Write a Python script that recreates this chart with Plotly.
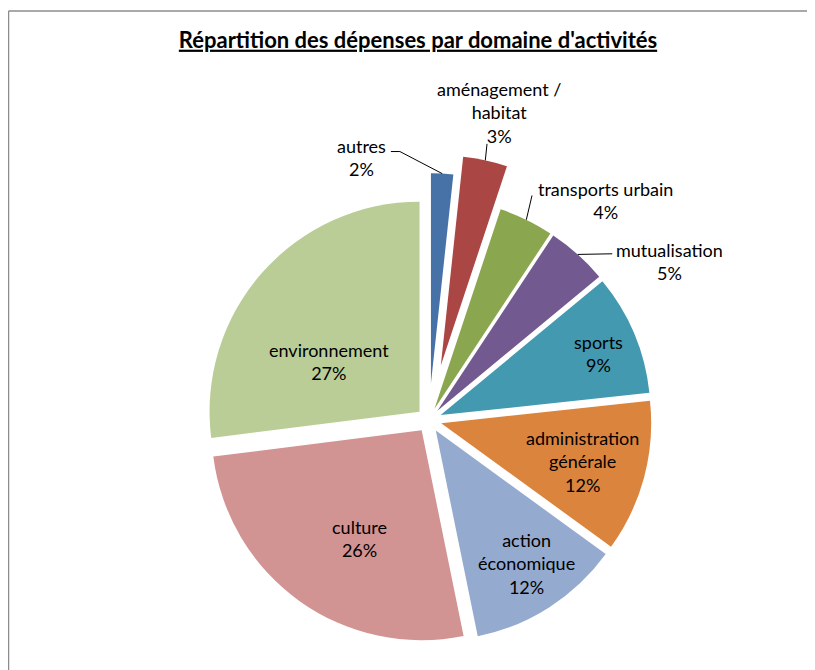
import math
import plotly.graph_objects as go

PAGE_OFF = 8  # the html body margin shifts the figure by 8px
W, H = 807, 662  # figure reaches the window edges

# ---- data (clockwise from 12 o'clock) ----
categories = ["autres", "aménagement /\nhabitat", "transports urbain", "mutualisation",
              "sports", "administration\ngénérale", "action\néconomique", "culture",
              "environnement"]
values = [1.7, 3.4, 4.2, 4.7, 9.3, 11.7, 11.8, 26.2, 27.0]
colors = ["#4672A8", "#AA4643", "#8AA64F", "#72598F", "#4299B0",
          "#DB843D", "#94AACF", "#D29393", "#BACD97"]
pulls = [0.175, 0.265, 0.06, 0.06, 0.06, 0.06, 0.06, 0.06, 0.06]

# label placement style: (radius factor from centre, angle shift from slice mid in degrees)
label_place = [(1.29, -17.4), (1.50, 0.6), (1.34, 12.8), (1.37, 14.7), (0.865, 1.4),
               (0.76, 0.3), (0.826, -1.6), (0.653, -5.4), (0.552, -11.1)]
# leader lines: offsets (px) from label centre for elbow/end points, None = no line
leader = [[(38, -6), (29, -6)], [(-12, 31)], [(-73, -5)], [(-57, -8)],
          None, None, None, None, None]

# pie centre and radius in screen pixels
CX, CY, R = 429.0, 420.0, 210.0
BASE_PULL = 0.06


def dirv(theta):
    t = math.radians(theta)
    return math.sin(t), -math.cos(t)


def X(px):
    return (px - PAGE_OFF) / W


def Y(py):
    return 1 - (py - PAGE_OFF) / H


def domain_for(cx, cy, hf):
    return dict(x=[X(cx - hf), X(cx + hf)], y=[Y(cy + hf), Y(cy - hf)])


total = sum(values)
mids = []
c = 0.0
for v in values:
    mids.append((c + v / 2) / total * 360)
    c += v

names = [s.replace("\n", " ") for s in categories]
special = [i for i, p in enumerate(pulls) if p > BASE_PULL]

fig = go.Figure()

# main pie: all slices with the common explosion; strongly exploded slices drawn separately
colMain = [("rgba(0,0,0,0)" if i in special else col) for i, col in enumerate(colors)]
pMain = [0 if i in special else p for i, p in enumerate(pulls)]
fig.add_trace(go.Pie(labels=names, values=values, sort=False, direction="clockwise",
                     rotation=0, pull=pMain, textinfo="none", hoverinfo="label+percent",
                     marker=dict(colors=colMain, line=dict(width=0)),
                     domain=domain_for(CX, CY, R * (1 + max(pMain)))))

# one pie per strongly exploded slice, with its centre moved along the slice mid-angle
for k in special:
    dx, dy = dirv(mids[k])
    off = pulls[k] * R
    col = [colors[k] if i == k else "rgba(0,0,0,0)" for i in range(len(values))]
    fig.add_trace(go.Pie(labels=names, values=values, sort=False, direction="clockwise",
                         rotation=0, textinfo="none", hoverinfo="skip",
                         marker=dict(colors=col, line=dict(width=0)),
                         domain=domain_for(CX + off * dx, CY + off * dy, R)))

annotations = []
shapes = []
font = dict(family="Lato, Carlito, sans-serif", size=18, color="#000000")
for i, v in enumerate(values):
    rho, dphi = label_place[i]
    ux, uy = dirv(mids[i] + dphi)
    lx, ly = CX + rho * R * ux, CY + rho * R * uy
    pct = round(v / total * 100)
    text = categories[i].replace("\n", "<br>") + "<br>" + f"{pct}%"
    annotations.append(dict(x=X(lx), y=Y(ly), xref="paper", yref="paper", text=text,
                            showarrow=False, xanchor="center", yanchor="middle",
                            align="center", font=font))
    if leader[i]:
        mx, my = dirv(mids[i])
        off = R * (1 + pulls[i])
        sx, sy = CX + off * mx, CY + off * my
        pts = [(sx, sy)] + [(lx + ox, ly + oy) for ox, oy in leader[i]]
        path = "M " + " L ".join(f"{X(a):.5f},{Y(b):.5f}" for a, b in pts)
        shapes.append(dict(type="path", path=path, xref="paper", yref="paper",
                           line=dict(color="#000000", width=1)))

# chart frame
shapes.append(dict(type="line", xref="paper", yref="paper", x0=X(8.5), x1=X(8.5), y0=Y(11), y1=Y(H + 40),
                   line=dict(color="#8C8C8C", width=1.5)))
shapes.append(dict(type="line", xref="paper", yref="paper", x0=X(8.5), x1=X(W + 40), y0=Y(11), y1=Y(11),
                   line=dict(color="#8C8C8C", width=1.5)))

fig.update_layout(
    width=W, height=H, margin=dict(l=0, r=0, t=0, b=0, pad=0),
    paper_bgcolor="white", plot_bgcolor="white", showlegend=False,
    title=dict(text="<b><u>Répartition des dépenses par domaine d'activités</u></b>",
               x=X(418), xanchor="center", y=Y(40), yanchor="middle",
               xref="container", yref="container",
               font=dict(family="Lato, Carlito, sans-serif", size=22, color="#000000")),
    annotations=annotations, shapes=shapes,
)

fig.write_html("out.html")
